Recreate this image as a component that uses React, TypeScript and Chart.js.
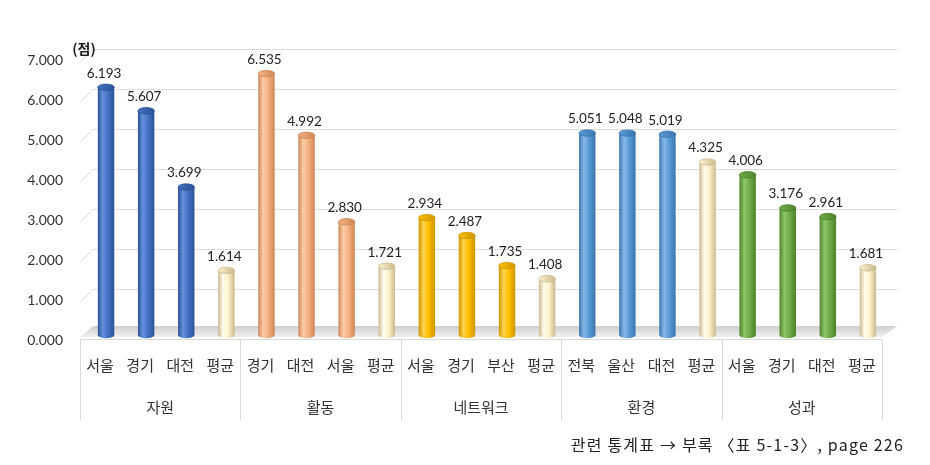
import { useEffect, useRef } from 'react';
import { Chart, registerables } from 'chart.js';

Chart.register(...registerables);

// ---- data ----
const groups = ['자원', '활동', '네트워크', '환경', '성과'];
const regionLabels = [
  '서울', '경기', '대전', '평균',
  '경기', '대전', '서울', '평균',
  '서울', '경기', '부산', '평균',
  '전북', '울산', '대전', '평균',
  '서울', '경기', '대전', '평균',
];
const scores = [
  6.193, 5.607, 3.699, 1.614,
  6.535, 4.992, 2.83, 1.721,
  2.934, 2.487, 1.735, 1.408,
  5.051, 5.048, 5.019, 4.325,
  4.006, 3.176, 2.961, 1.681,
];
const yMin = 0;
const yMax = 7;
const yStep = 1;
const unitLabel = '(점)';
const footerText = '관련 통계표 → 부록 〈표 5-1-3〉, page 226';

// ---- styles ----
type Pal = { base: string; dark: string; light: string };
const groupPalettes: Pal[] = [
  { base: '#4472C4', dark: '#2C5296', light: '#6690DA' },
  { base: '#F4B183', dark: '#CF8755', light: '#F9CBA8' },
  { base: '#FFC000', dark: '#CC9600', light: '#FFD44F' },
  { base: '#5B9BD5', dark: '#3A76AE', light: '#88B8E6' },
  { base: '#70AD47', dark: '#4C822B', light: '#90C566' },
];
const avgPalette: Pal = { base: '#FFF2CC', dark: '#C9B98E', light: '#FFFCEE' };

const paletteFor = (i: number): Pal =>
  regionLabels[i] === '평균' ? avgPalette : groupPalettes[Math.floor(i / 4)];

const FONT_KR = '"Noto Sans CJK KR", "Noto Sans", sans-serif';
const FONT_NUM = 'Lato, "Noto Sans", sans-serif';
const DX = 6; // 3D depth offset

function cylGradient(ctx: CanvasRenderingContext2D, cx: number, w: number, p: Pal) {
  const g = ctx.createLinearGradient(cx - w / 2, 0, cx + w / 2, 0);
  g.addColorStop(0, p.dark);
  g.addColorStop(0.3, p.light);
  g.addColorStop(0.6, p.base);
  g.addColorStop(1, p.dark);
  return g;
}

const decorPlugin = {
  id: 'decor',
  beforeDatasetsDraw(chart: any) {
    const { ctx, chartArea } = chart;
    const { left: L, right: R, bottom: B } = chartArea;
    const y = chart.scales.y;
    ctx.save();
    // floor
    const fg = ctx.createLinearGradient(0, B - 9, 0, B + 2);
    fg.addColorStop(0, '#cfcfcf');
    fg.addColorStop(1, '#f0f0f0');
    ctx.fillStyle = fg;
    ctx.beginPath();
    ctx.moveTo(L - DX, B + 2);
    ctx.lineTo(R - DX, B + 2);
    ctx.lineTo(R + 9, B - 9);
    ctx.lineTo(L + 7, B - 9);
    ctx.closePath();
    ctx.fill();
    // back wall gridlines
    ctx.strokeStyle = '#dcdcdc';
    ctx.lineWidth = 1;
    y.ticks.forEach((t: any) => {
      if (t.value === yMin) return;
      const py = Math.round(y.getPixelForValue(t.value)) + 0.5;
      ctx.beginPath();
      ctx.moveTo(L - DX, py + 7);
      ctx.lineTo(L + 7, py - 6);
      ctx.lineTo(R + 9, py - 6);
      ctx.stroke();
    });
    ctx.restore();
  },
  afterDatasetsDraw(chart: any) {
    const { ctx } = chart;
    const meta = chart.getDatasetMeta(0);
    ctx.save();
    meta.data.forEach((el: any, i: number) => {
      const p = paletteFor(i);
      const w = el.width;
      const rx = w / 2;
      const ry = 3.2;
      // bottom rounding
      ctx.fillStyle = cylGradient(ctx, el.x, w, p);
      ctx.beginPath();
      ctx.ellipse(el.x, el.base, rx, ry, 0, 0, Math.PI * 2);
      ctx.fill();
      // top cap
      const tg = ctx.createLinearGradient(el.x - rx, 0, el.x + rx, 0);
      tg.addColorStop(0, p.base);
      tg.addColorStop(1, p.dark);
      ctx.fillStyle = tg;
      ctx.strokeStyle = p.dark;
      ctx.lineWidth = 0.8;
      ctx.beginPath();
      ctx.ellipse(el.x, el.y, rx, ry, 0, 0, Math.PI * 2);
      ctx.fill();
      ctx.stroke();
      // value label
      ctx.fillStyle = '#222';
      ctx.font = `13.5px ${FONT_NUM}`;
      ctx.textAlign = 'center';
      ctx.textBaseline = 'middle';
      ctx.fillText(scores[i].toFixed(3), el.x - 2, el.y - 14);
    });
    ctx.restore();
  },
  afterDraw(chart: any) {
    const { ctx, chartArea } = chart;
    const { left: L, right: R, bottom: B, top: T } = chartArea;
    const W = R - L;
    ctx.save();
    ctx.strokeStyle = '#d9d9d9';
    ctx.lineWidth = 1;
    const axisY = Math.round(B + 4) + 0.5;
    ctx.beginPath();
    ctx.moveTo(L - DX, axisY);
    ctx.lineTo(R - DX, axisY);
    ctx.stroke();
    for (let k = 0; k <= groups.length; k++) {
      const x = Math.round(L - DX + (k * W) / groups.length) + 0.5;
      ctx.beginPath();
      ctx.moveTo(x, axisY);
      ctx.lineTo(x, B + 85);
      ctx.stroke();
    }
    // unit label
    ctx.fillStyle = '#222';
    ctx.font = `bold 14px ${FONT_KR}`;
    ctx.textAlign = 'center';
    ctx.textBaseline = 'middle';
    ctx.fillText(unitLabel, L - 2, T - 6);
    // footer
    ctx.font = `16px ${FONT_KR}`;
    ctx.textAlign = 'right';
    ctx.fillStyle = '#222';
    (ctx as any).letterSpacing = '1.2px';
    ctx.fillText(footerText, 904, 445);
    (ctx as any).letterSpacing = '0px';
    ctx.restore();
  },
};

export default function App() {
  const ref = useRef<HTMLCanvasElement>(null);
  useEffect(() => {
    const canvas = ref.current;
    if (!canvas) return;
    const chart = new Chart(canvas, {
      type: 'bar',
      data: {
        labels: regionLabels,
        datasets: [
          {
            data: scores,
            borderWidth: 0,
            barPercentage: 0.41,
            categoryPercentage: 1,
            backgroundColor: (c: any) => {
              const i = c.dataIndex;
              if (i === undefined) return '#4472C4';
              const p = paletteFor(i);
              const xs = c.chart.scales.x;
              if (!xs || !c.chart.chartArea) return p.base;
              const cx = xs.getPixelForValue(i);
              const w = (c.chart.chartArea.width / regionLabels.length) * 0.41;
              return cylGradient(c.chart.ctx, cx, w, p);
            },
          },
        ],
      },
      options: {
        animation: false,
        responsive: false,
        layout: { padding: { left: 0, right: 42, top: 55, bottom: 45 } },
        plugins: {
          legend: { display: false },
          tooltip: { enabled: false },
          title: { display: false },
        },
        scales: {
          x: {
            type: 'category',
            offset: true,
            grid: { display: false, drawTicks: false },
            border: { display: false },
            ticks: {
              autoSkip: false,
              maxRotation: 0,
              color: '#333',
              font: { family: FONT_KR, size: 15 },
              padding: 21,
              labelOffset: -DX,
            },
            afterFit: (s: any) => {
              s.height = 45;
            },
          },
          x2: {
            type: 'category',
            position: 'bottom',
            axis: 'x',
            labels: groups,
            offset: true,
            weight: 1,
            grid: { display: false, drawTicks: false },
            border: { display: false },
            ticks: {
              autoSkip: false,
              maxRotation: 0,
              color: '#333',
              font: { family: FONT_KR, size: 15 },
              padding: 18,
              labelOffset: -DX,
            },
            afterFit: (s: any) => {
              s.height = 40;
            },
          },
          y: {
            min: yMin,
            max: yMax,
            grid: { display: false, drawTicks: false },
            border: { display: false },
            ticks: {
              stepSize: yStep,
              color: '#333',
              font: { family: FONT_NUM, size: 14 },
              padding: 23,
              labelOffset: 5,
              callback: (v: any) => Number(v).toFixed(3),
            },
            afterFit: (s: any) => {
              s.width = 86;
            },
          },
        },
      } as any,
      plugins: [decorPlugin],
    });
    return () => chart.destroy();
  }, []);
  return (
    <div style={{ position: 'absolute', left: 0, top: 0, width: 930, height: 465, background: '#fff' }}>
      <canvas ref={ref} width={930} height={465} style={{ display: 'block', width: 930, height: 465 }} />
    </div>
  );
}
